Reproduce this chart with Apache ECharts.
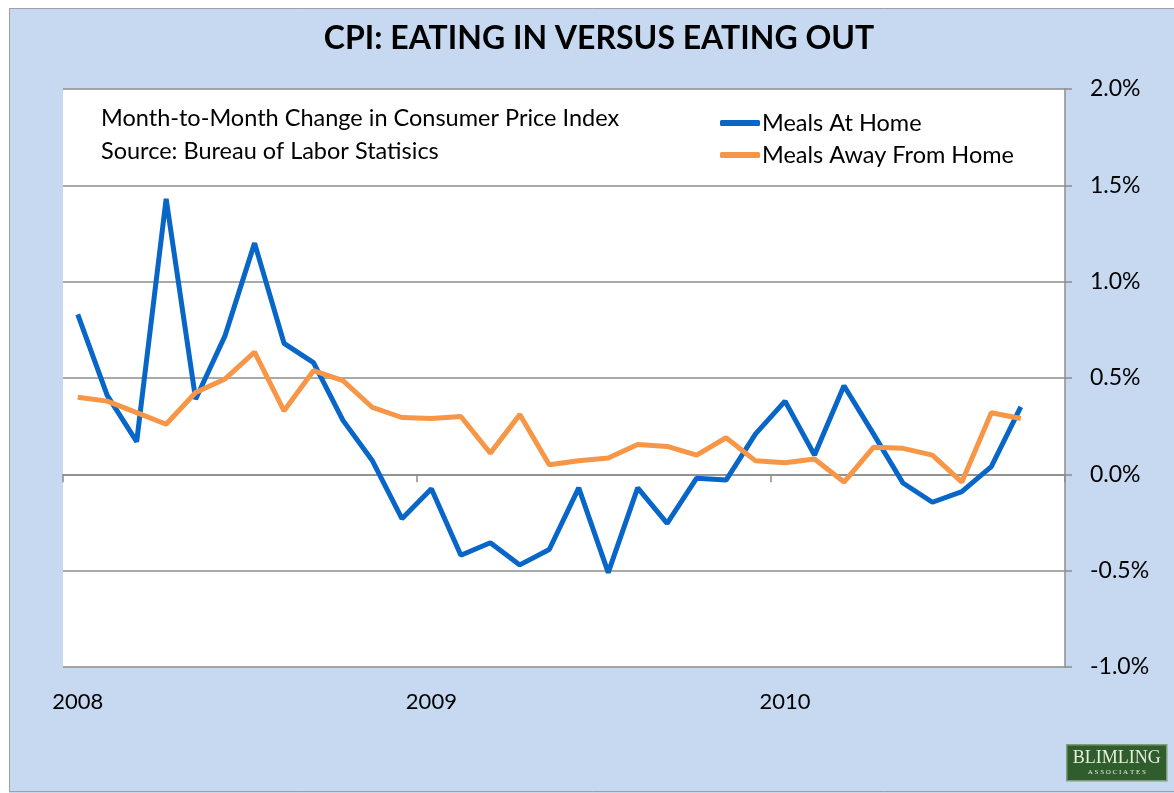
<!DOCTYPE html>
<html>
<head>
<meta charset="utf-8">
<script src="https://cdn.jsdelivr.net/npm/echarts@6/dist/echarts.min.js"></script>
<style>
  html, body { margin: 0; padding: 0; background: #fff; }
  #chart { width: 1174px; height: 793px; }
</style>
</head>
<body>
<div id="chart"></div>
<script>
// monthly categories, Jan 2008 .. Oct 2010 (last one has no data)
const years = ['2008', '2009', '2010'];
const monthNames = ['Jan', 'Feb', 'Mar', 'Apr', 'May', 'Jun', 'Jul', 'Aug', 'Sep', 'Oct', 'Nov', 'Dec'];
const categories = [];
years.forEach(function (y) {
    monthNames.forEach(function (m) {
        if (categories.length < 34) categories.push(m + ' ' + y);
    });
});

// month-to-month % change
const mealsAtHome = [0.83, 0.41, 0.17, 1.43, 0.39, 0.72, 1.20, 0.68, 0.58, 0.28, 0.07, -0.23,
    -0.075, -0.42, -0.355, -0.47, -0.39, -0.07, -0.51, -0.07, -0.255, -0.02, -0.03, 0.21,
    0.38, 0.10, 0.46, 0.21, -0.045, -0.145, -0.09, 0.04, 0.35];
const mealsAwayFromHome = [0.40, 0.38, 0.32, 0.26, 0.425, 0.495, 0.634, 0.33, 0.538, 0.486, 0.347, 0.295,
    0.29, 0.30, 0.11, 0.31, 0.05, 0.07, 0.085, 0.155, 0.145, 0.10, 0.19, 0.07,
    0.06, 0.08, -0.04, 0.14, 0.135, 0.10, -0.04, 0.32, 0.29];

const yTicks = [-1.0, -0.5, 0.0, 0.5, 1.0, 1.5, 2.0];

const FONT = 'Lato';
const GRID_GRAY = '#8c8c8c';
const chart = echarts.init(document.getElementById('chart'), null, {renderer: 'canvas'});

chart.setOption({
    backgroundColor: '#c6d9f1',
    textStyle: {fontFamily: FONT, color: '#000'},
    legend: {
        orient: 'vertical',
        left: 715,
        top: 106,
        itemWidth: 40,
        itemHeight: 6,
        itemGap: 8,
        icon: 'roundRect',
        data: ['Meals At Home', 'Meals Away From Home'],
        textStyle: {fontFamily: FONT, fontSize: 23.5, color: '#000', padding: [0, 0, 0, -3]}
    },
    grid: {
        left: 63,
        right: 109,
        top: 89,
        bottom: 126,
        show: true,
        backgroundColor: '#fff',
        borderWidth: 0
    },
    xAxis: [
        {
            type: 'category',
            data: categories,
            boundaryGap: true,
            position: 'bottom',
            axisLine: {show: false, onZero: false},
            axisTick: {show: false},
            axisLabel: {
                interval: 11,
                margin: 24,
                fontSize: 22,
                color: '#000',
                formatter: function (v) { return v.split(' ')[1]; }
            },
            splitLine: {show: false}
        },
        {
            // zero line with year-boundary ticks
            type: 'category',
            data: categories,
            boundaryGap: true,
            position: 'top',
            axisLine: {show: true, onZero: true, lineStyle: {color: GRID_GRAY, width: 1.5}},
            axisTick: {show: true, inside: true, interval: 11, length: 8, lineStyle: {color: GRID_GRAY, width: 1.5}},
            axisLabel: {show: false},
            splitLine: {show: false}
        }
    ],
    yAxis: {
        type: 'value',
        position: 'right',
        min: yTicks[0],
        max: yTicks[yTicks.length - 1],
        interval: 0.5,
        axisLine: {show: true, lineStyle: {color: GRID_GRAY, width: 1.5}},
        axisTick: {show: true, length: 7, lineStyle: {color: GRID_GRAY, width: 1.5}},
        axisLabel: {
            margin: 25,
            fontSize: 23,
            color: '#000',
            formatter: function (v) { return v.toFixed(1) + '%'; }
        },
        splitLine: {lineStyle: {color: GRID_GRAY, width: 1.5}}
    },
    series: [
        {
            name: 'Meals At Home',
            type: 'line',
            data: mealsAtHome,
            symbol: 'none',
            color: '#0766c8',
            lineStyle: {width: 5, color: '#0766c8'}
        },
        {
            name: 'Meals Away From Home',
            type: 'line',
            data: mealsAwayFromHome,
            symbol: 'none',
            color: '#f79646',
            lineStyle: {width: 5, color: '#f79646'}
        }
    ],
    graphic: [
        // white margin outside the blue frame
        {type: 'rect', shape: {x: 0, y: 0, width: 1174, height: 8}, style: {fill: '#fff'}, silent: true},
        {type: 'rect', shape: {x: 0, y: 0, width: 9, height: 793}, style: {fill: '#fff'}, silent: true},
        {type: 'rect', shape: {x: 9.5, y: 8.5, width: 1170, height: 783}, style: {fill: null, stroke: '#a0a0a0', lineWidth: 1}, silent: true},
        {
            type: 'text',
            x: 599,
            y: 39,
            style: {
                text: 'CPI: EATING IN VERSUS EATING OUT',
                font: 'bold 32px ' + FONT,
                fill: '#000',
                align: 'center',
                verticalAlign: 'middle'
            }
        },
        {
            type: 'text',
            x: 101,
            y: 102,
            style: {
                text: 'Month-to-Month Change in Consumer Price Index\nSource: Bureau of Labor Statisics',
                font: '23.5px ' + FONT,
                lineHeight: 33,
                fill: '#000'
            }
        },
        {
            type: 'group',
            left: 1066,
            top: 744,
            children: [
                {type: 'rect', shape: {x: 0, y: 0, width: 100, height: 36}, style: {fill: '#2f5d2c', stroke: '#7f9c7a', lineWidth: 1.5}},
                {type: 'text', x: 50, y: 5, style: {text: 'BLIMLING', font: '18px "Liberation Serif"', fill: '#e8eedf', align: 'center'}},
                {type: 'text', x: 50, y: 24, style: {text: 'A S S O C I A T E S', font: '7px "Liberation Serif"', fill: '#e8eedf', align: 'center'}}
            ]
        }
    ]
});
</script>
</body>
</html>
